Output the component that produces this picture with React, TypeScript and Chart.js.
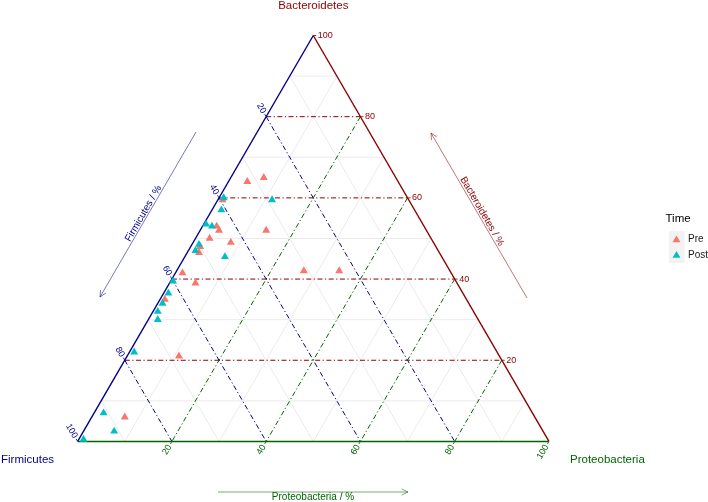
import React, { useEffect, useRef } from 'react';
import { Chart, registerables } from 'chart.js';

Chart.register(...registerables);

// ---- data (percent composition) ----
const preFirmicutes = [32, 28, 39.5, 44, 44, 34, 47, 43, 50, 51, 57, 31, 23.5, 55.5, 64, 68, 87];
const preBacteroidetes = [64, 65, 59.5, 53, 52, 52, 50, 49, 48, 46.5, 41.5, 42, 42, 39, 35, 21, 6];
const preProteobacteria = [4, 7, 1, 3, 4, 14, 3, 8, 2, 2.5, 1.5, 27, 34.5, 5.5, 1, 11, 7];

const postFirmicutes = [29, 39, 41, 46, 45, 50, 51.5, 46, 60, 62.5, 65, 67, 68, 77, 91, 91, 98.5];
const postBacteroidetes = [59.5, 60, 57, 53.5, 53, 48.5, 47, 45.5, 39.5, 36.5, 34, 32, 30, 22, 7, 2.5, 0.5];
const postProteobacteria = [11.5, 1, 2, 0.5, 2, 1.5, 1.5, 8.5, 0.5, 1, 1, 1, 2, 1, 2, 6.5, 1];

const seriesNames = ['Pre', 'Post'];
const seriesColors = ['#F8766D', '#00BFC4'];
const majorTicks = [20, 40, 60, 80];
const minorTicks = [10, 30, 50, 70, 90];
const tickLabels = [20, 40, 60, 80, 100];
const axisNames = { F: 'Firmicutes', B: 'Bacteroidetes', P: 'Proteobacteria' };
const legendTitle = 'Time';

// ---- styling / layout ----
const COL_F = '#00008B';
const COL_B = '#8B0000';
const COL_P = '#006400';
const FONT = '"Liberation Sans", Arial, Helvetica, sans-serif';
const W = 708;
const H = 502;
const LEFT_PX = 74;
const BASE_PX = 445;
const SIDE_PX = 477.5;
const SQ = Math.sqrt(3) / 2;

function tern(f: number, b: number, p: number) {
  const s = f + b + p;
  const bb = b / s;
  const pp = p / s;
  return { x: pp + bb / 2, y: bb * SQ };
}

function toPoints(F: number[], B: number[], P: number[]) {
  return F.map((f, i) => tern(f, B[i], P[i]));
}

const ternaryPlugin = {
  id: 'ternaryDecor',
  beforeDatasetsDraw(chart: any) {
    const { ctx } = chart;
    const xs = chart.scales.x;
    const ys = chart.scales.y;
    const pt = (f: number, b: number, p: number): [number, number] => {
      const t = tern(f, b, p);
      return [xs.getPixelForValue(t.x), ys.getPixelForValue(t.y)];
    };
    const line = (a: [number, number], c: [number, number], color: string, width: number, dash: number[] = []) => {
      ctx.save();
      ctx.strokeStyle = color;
      ctx.lineWidth = width;
      ctx.setLineDash(dash);
      ctx.beginPath();
      ctx.moveTo(a[0], a[1]);
      ctx.lineTo(c[0], c[1]);
      ctx.stroke();
      ctx.restore();
    };
    // minor grid
    minorTicks.forEach((t) => {
      const v = t / 100;
      const g = '#E6E6E6';
      line(pt(1 - v, v, 0), pt(0, v, 1 - v), g, 0.8);
      line(pt(v, 1 - v, 0), pt(v, 0, 1 - v), g, 0.8);
      line(pt(0, 1 - v, v), pt(1 - v, 0, v), g, 0.8);
    });
    // major grid (dot-dash)
    const dash = [5, 2.5, 1.2, 2.5];
    majorTicks.forEach((t) => {
      const v = t / 100;
      line(pt(1 - v, v, 0), pt(0, v, 1 - v), COL_B, 1, dash);
      line(pt(v, 1 - v, 0), pt(v, 0, 1 - v), COL_F, 1, dash);
      line(pt(0, 1 - v, v), pt(1 - v, 0, v), COL_P, 1, dash);
    });
    // triangle edges
    line(pt(0, 1, 0), pt(1, 0, 0), COL_F, 1.4);
    line(pt(0, 0, 1), pt(0, 1, 0), COL_B, 1.4);
    line(pt(1, 0, 0), pt(0, 0, 1), COL_P, 1.4);
  },
  afterDraw(chart: any) {
    const { ctx } = chart;
    const xs = chart.scales.x;
    const ys = chart.scales.y;
    const pt = (f: number, b: number, p: number): [number, number] => {
      const t = tern(f, b, p);
      return [xs.getPixelForValue(t.x), ys.getPixelForValue(t.y)];
    };
    const text = (s: string, x: number, y: number, color: string, size: number, align: CanvasTextAlign, rot = 0) => {
      ctx.save();
      ctx.translate(x, y);
      ctx.rotate(rot);
      ctx.fillStyle = color;
      ctx.font = `${size}px ${FONT}`;
      ctx.textAlign = align;
      ctx.textBaseline = 'middle';
      ctx.fillText(s, 0, 0);
      ctx.restore();
    };
    const seg = (x1: number, y1: number, x2: number, y2: number, color: string, w: number) => {
      ctx.save();
      ctx.strokeStyle = color;
      ctx.lineWidth = w;
      ctx.beginPath();
      ctx.moveTo(x1, y1);
      ctx.lineTo(x2, y2);
      ctx.stroke();
      ctx.restore();
    };
    // ticks + tick labels
    tickLabels.forEach((t) => {
      const v = t / 100;
      // Bacteroidetes (right edge)
      let [px, py] = pt(0, v, 1 - v);
      seg(px, py, px + 3, py, COL_B, 0.8);
      text(String(t), px + 4.5, py, COL_B, 9, 'left');
      // Firmicutes (left edge)
      [px, py] = pt(v, 1 - v, 0);
      seg(px, py, px - 1.5, py - 2.6, COL_F, 0.8);
      text(String(t), px - 0.5 * 4.5, py - SQ * 4.5, COL_F, 9, 'right', Math.PI / 3);
      // Proteobacteria (bottom edge)
      [px, py] = pt(1 - v, 0, v);
      seg(px, py, px - 1.5, py + 2.6, COL_P, 0.8);
      text(String(t), px - 0.5 * 4.5, py + SQ * 4.5, COL_P, 9, 'right', -Math.PI / 3);
    });
    // vertex titles
    const top = pt(0, 1, 0);
    text(axisNames.B, top[0], 5.5, COL_B, 11.5, 'center');
    text(axisNames.F, 1, 460, COL_F, 11.5, 'left');
    text(axisNames.P, 570, 460, COL_P, 11.5, 'left');
    // arrows
    const arrow = (x1: number, y1: number, x2: number, y2: number, color: string) => {
      ctx.save();
      ctx.strokeStyle = color;
      ctx.globalAlpha = 0.6;
      ctx.lineWidth = 0.9;
      ctx.beginPath();
      ctx.moveTo(x1, y1);
      ctx.lineTo(x2, y2);
      const a = Math.atan2(y2 - y1, x2 - x1);
      const L = 7;
      const s = Math.PI / 7;
      ctx.moveTo(x2 - L * Math.cos(a - s), y2 - L * Math.sin(a - s));
      ctx.lineTo(x2, y2);
      ctx.lineTo(x2 - L * Math.cos(a + s), y2 - L * Math.sin(a + s));
      ctx.stroke();
      ctx.restore();
    };
    arrow(196, 132, 100, 297, COL_F);
    arrow(527, 298, 431, 133, COL_B);
    arrow(218, 492, 408, 492, COL_P);
    text(axisNames.F + ' / %', 143.5, 213.5, COL_F, 10, 'center', -Math.PI / 3);
    text(axisNames.B + ' / %', 482, 211.5, COL_B, 10, 'center', Math.PI / 3);
    text(axisNames.P + ' / %', 313, 497, COL_P, 10, 'center');
    // legend
    text(legendTitle, 665.5, 219, '#000000', 11.5, 'left');
    ctx.save();
    ctx.fillStyle = '#F2F2F2';
    ctx.fillRect(669, 231, 15.5, 32);
    ctx.restore();
    seriesNames.forEach((name, i) => {
      const cx = 676.5;
      const cy = 240 + i * 15.5;
      const r = 4.6;
      ctx.save();
      ctx.fillStyle = seriesColors[i];
      ctx.beginPath();
      ctx.moveTo(cx, cy - r);
      ctx.lineTo(cx + r * SQ, cy + r / 2);
      ctx.lineTo(cx - r * SQ, cy + r / 2);
      ctx.closePath();
      ctx.fill();
      ctx.restore();
      text(name, 688, cy - 0.5, '#1A1A1A', 10, 'left');
    });
  },
};

export default function App() {
  const ref = useRef<HTMLCanvasElement | null>(null);
  useEffect(() => {
    document.body.style.margin = '0';
    const canvas = ref.current;
    if (!canvas) return;
    const xMin = -LEFT_PX / SIDE_PX;
    const xMax = (W - LEFT_PX) / SIDE_PX;
    const yMax = BASE_PX / SIDE_PX;
    const yMin = (BASE_PX - H) / SIDE_PX;
    const chart = new Chart(canvas, {
      type: 'scatter',
      data: {
        datasets: [
          {
            label: seriesNames[0],
            data: toPoints(preFirmicutes, preBacteroidetes, preProteobacteria),
            pointStyle: 'triangle',
            pointRadius: 4.6,
            backgroundColor: seriesColors[0],
            borderColor: seriesColors[0],
            borderWidth: 0,
            order: 2,
          },
          {
            label: seriesNames[1],
            data: toPoints(postFirmicutes, postBacteroidetes, postProteobacteria),
            pointStyle: 'triangle',
            pointRadius: 4.6,
            backgroundColor: seriesColors[1],
            borderColor: seriesColors[1],
            borderWidth: 0,
            order: 1,
          },
        ],
      },
      options: {
        animation: false,
        responsive: false,
        devicePixelRatio: 1,
        layout: { padding: 0 },
        plugins: { legend: { display: false }, tooltip: { enabled: false }, title: { display: false } },
        scales: {
          x: { type: 'linear', display: false, min: xMin, max: xMax },
          y: { type: 'linear', display: false, min: yMin, max: yMax },
        },
      },
      plugins: [ternaryPlugin],
    });
    return () => chart.destroy();
  }, []);
  return (
    <div style={{ position: 'fixed', left: 0, top: 0, width: W, height: H, background: '#ffffff' }}>
      <canvas ref={ref} width={W} height={H} style={{ width: W, height: H, display: 'block' }} />
    </div>
  );
}
